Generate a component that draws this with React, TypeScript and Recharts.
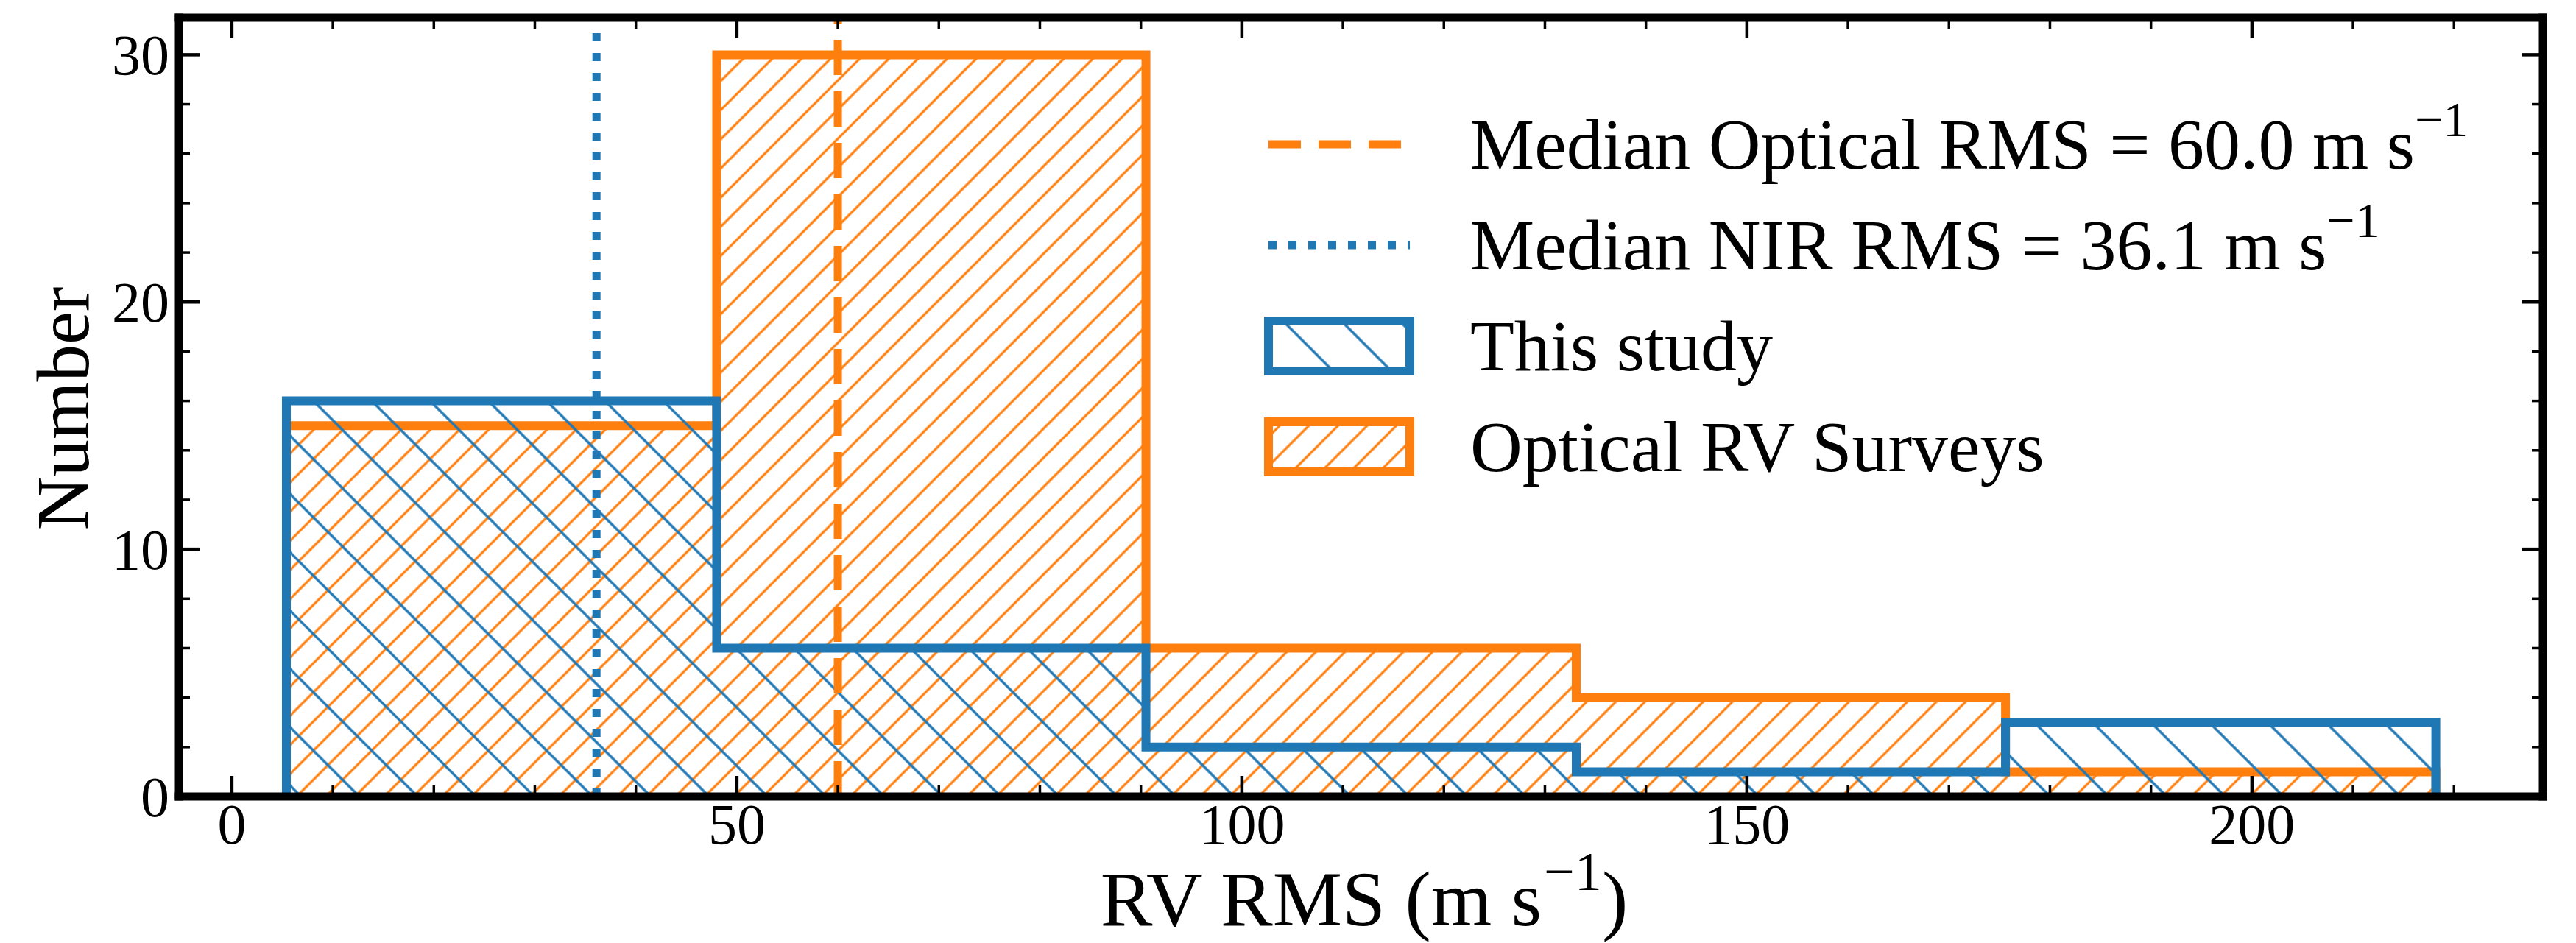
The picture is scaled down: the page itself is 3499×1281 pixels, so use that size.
import { ComposedChart, Area, XAxis, YAxis, ReferenceLine, Legend } from "recharts";

// histogram bins shared by both samples (m s^-1)
const binEdges = [5.4, 48.0, 90.5, 133.1, 175.6, 218.2];
const thisStudyCounts = [16, 6, 2, 1, 3];
const opticalCounts = [15, 30, 6, 4, 1];

const medianOptical = 60.0;
const medianNir = 36.1;

const xMajorTicks = [0, 50, 100, 150, 200];
const xMinorTicks = [10, 20, 30, 40, 60, 70, 80, 90, 110, 120, 130, 140, 160, 170, 180, 190, 210, 220];
const yMajorTicks = [0, 10, 20, 30];
const yMinorTicks = [2, 4, 6, 8, 12, 14, 16, 18, 22, 24, 26, 28];

const xDomain = [-5.24, 228.8];
const yDomain = [0, 31.5];

const BLUE = "#1f77b4";
const ORANGE = "#ff7f0e";
const FONT = "'Liberation Serif', 'DejaVu Serif', serif";

// step outline: each edge appears twice (value before / after the edge)
const outline = binEdges.flatMap((edge, i) => [
  {
    x: edge,
    thisStudy: i === 0 ? 0 : thisStudyCounts[i - 1],
    optical: i === 0 ? 0 : opticalCounts[i - 1],
  },
  {
    x: edge,
    thisStudy: i < thisStudyCounts.length ? thisStudyCounts[i] : 0,
    optical: i < opticalCounts.length ? opticalCounts[i] : 0,
  },
]);

const MAJOR_LEN = 28;
const MINOR_LEN = 15;

const makeTick =
  (side: "bottom" | "top" | "left" | "right", majors: number[], withLabel: boolean) =>
  (props: any) => {
    const { x, y, payload } = props;
    const v = payload.value;
    const major = majors.includes(v);
    const len = major ? MAJOR_LEN : MINOR_LEN;
    const sw = major ? 4.5 : 3.5;
    let line;
    if (side === "bottom") line = <line x1={x} y1={y} x2={x} y2={y - len} stroke="#000" strokeWidth={sw} />;
    else if (side === "top") line = <line x1={x} y1={y} x2={x} y2={y + len} stroke="#000" strokeWidth={sw} />;
    else if (side === "left") line = <line x1={x} y1={y} x2={x + len} y2={y} stroke="#000" strokeWidth={sw} />;
    else line = <line x1={x} y1={y} x2={x - len} y2={y} stroke="#000" strokeWidth={sw} />;
    return (
      <g>
        {line}
        {withLabel && major && side === "bottom" && (
          <text x={x} y={y + 64} textAnchor="middle" fontFamily={FONT} fontSize={78} fill="#000">
            {v}
          </text>
        )}
        {withLabel && major && side === "left" && (
          <text x={x - 13} y={y + 27} textAnchor="end" fontFamily={FONT} fontSize={78} fill="#000">
            {v}
          </text>
        )}
      </g>
    );
  };

const axisLine = { stroke: "#000", strokeWidth: 11, strokeLinecap: "square" } as any;

const legendRows = [
  { kind: "dash", color: ORANGE, label: "Median Optical RMS = 60.0 m s", sup: true },
  { kind: "dot", color: BLUE, label: "Median NIR RMS = 36.1 m s", sup: true },
  { kind: "patch", color: BLUE, fill: "url(#hatchBlue)", label: "This study", sup: false },
  { kind: "patch", color: ORANGE, fill: "url(#hatchOrange)", label: "Optical RV Surveys", sup: false },
];
const legendRowY = [196, 333, 470, 607];

function LegendBox() {
  const hx0 = 1723;
  const hx1 = 1915;
  return (
    <svg width={3499} height={1281} style={{ position: "absolute", left: 0, top: 0, pointerEvents: "none" }}>
      {legendRows.map((r, i) => {
        const cy = legendRowY[i];
        return (
          <g key={r.label}>
            {r.kind === "dash" && (
              <line x1={hx0} y1={cy} x2={hx1} y2={cy} stroke={r.color} strokeWidth={11} strokeDasharray="44 24" />
            )}
            {r.kind === "dot" && (
              <line x1={hx0} y1={cy} x2={hx1} y2={cy} stroke={r.color} strokeWidth={11} strokeDasharray="11 16" />
            )}
            {r.kind === "patch" && (
              <rect x={hx0} y={cy - 34} width={hx1 - hx0} height={68} fill={r.fill} stroke={r.color} strokeWidth={12} />
            )}
            <text x={1997} y={cy + 33} fontFamily={FONT} fontSize={98} fill="#000">
              {r.label}
              {r.sup && (
                <tspan fontSize={68} dy={-44}>
                  −1
                </tspan>
              )}
            </text>
          </g>
        );
      })}
    </svg>
  );
}

// x-axis title, split so the superscript does not enlarge the main text box
function XTitle() {
  const end = 2094;
  const base = 1257;
  return (
    <g fontFamily={FONT} fill="#000">
      <text x={end} y={base} textAnchor="end" fontSize={106}>
        RV RMS (m s
      </text>
      <text x={end + 3} y={base - 48} fontSize={74}>
        −1
      </text>
      <text x={end + 82} y={base} fontSize={106}>
        )
      </text>
    </g>
  );
}

const allXTicks = [...xMajorTicks, ...xMinorTicks].sort((a, b) => a - b);
const allYTicks = [...yMajorTicks, ...yMinorTicks].sort((a, b) => a - b);

export default function App() {
  return (
    <div style={{ position: "absolute", left: 0, top: 0, width: 3499, height: 1281, background: "#fff" }}>
      <svg width={0} height={0} style={{ position: "absolute" }}>
        <defs>
          <pattern id="hatchOrange" patternUnits="userSpaceOnUse" width={28} height={28} patternTransform="rotate(45)">
            <line x1={14} y1={-2} x2={14} y2={30} stroke={ORANGE} strokeWidth={3.2} />
          </pattern>
          <pattern id="hatchBlue" patternUnits="userSpaceOnUse" width={56} height={56} patternTransform="rotate(-45)">
            <line x1={28} y1={-2} x2={28} y2={58} stroke={BLUE} strokeWidth={3.4} />
          </pattern>
        </defs>
      </svg>
      <ComposedChart
        width={3499}
        height={1281}
        data={outline}
        margin={{ top: 23, right: 44, bottom: 198, left: 242 }}
      >
        <XAxis
          type="number"
          dataKey="x"
          domain={xDomain}
          allowDataOverflow
          ticks={allXTicks}
          interval={0}
          height={1}
          tickSize={0}
          tickMargin={0}
          axisLine={axisLine}
          tickLine={false}
          tick={makeTick("bottom", xMajorTicks, true)}
          label={{ content: () => <XTitle /> }}
        />
        <XAxis
          xAxisId="top"
          orientation="top"
          type="number"
          dataKey="x"
          domain={xDomain}
          allowDataOverflow
          ticks={allXTicks}
          interval={0}
          height={1}
          tickSize={0}
          tickMargin={0}
          axisLine={axisLine}
          tickLine={false}
          tick={makeTick("top", xMajorTicks, false)}
        />
        <YAxis
          type="number"
          domain={yDomain}
          allowDataOverflow
          ticks={allYTicks}
          interval={0}
          width={1}
          tickSize={0}
          tickMargin={0}
          axisLine={axisLine}
          tickLine={false}
          tick={makeTick("left", yMajorTicks, true)}
          label={{
            content: () => (
              <text
                x={120}
                y={555}
                transform="rotate(-90 120 555)"
                textAnchor="middle"
                fontFamily={FONT}
                fontSize={101}
                fill="#000"
              >
                Number
              </text>
            ),
          }}
        />
        <YAxis
          yAxisId="right"
          orientation="right"
          type="number"
          domain={yDomain}
          allowDataOverflow
          ticks={allYTicks}
          interval={0}
          width={1}
          tickSize={0}
          tickMargin={0}
          axisLine={axisLine}
          tickLine={false}
          tick={makeTick("right", yMajorTicks, false)}
        />
        <Area
          type="linear"
          dataKey="optical"
          stroke={ORANGE}
          strokeWidth={12}
          strokeLinejoin="miter"
          fill="url(#hatchOrange)"
          fillOpacity={1}
          dot={false}
          activeDot={false}
          isAnimationActive={false}
        />
        <Area
          type="linear"
          dataKey="thisStudy"
          stroke={BLUE}
          strokeWidth={12}
          strokeLinejoin="miter"
          fill="url(#hatchBlue)"
          fillOpacity={1}
          dot={false}
          activeDot={false}
          isAnimationActive={false}
        />
        <ReferenceLine x={medianOptical} stroke={ORANGE} strokeWidth={11} strokeDasharray="48 22" />
        <ReferenceLine x={medianNir} stroke={BLUE} strokeWidth={11} strokeDasharray="11 16" />
        <Legend
          layout="horizontal"
          verticalAlign="middle"
          align="center"
          wrapperStyle={{ left: 0, top: 0, width: 3499, height: 1281 }}
          content={() => <LegendBox />}
        />
      </ComposedChart>
    </div>
  );
}
